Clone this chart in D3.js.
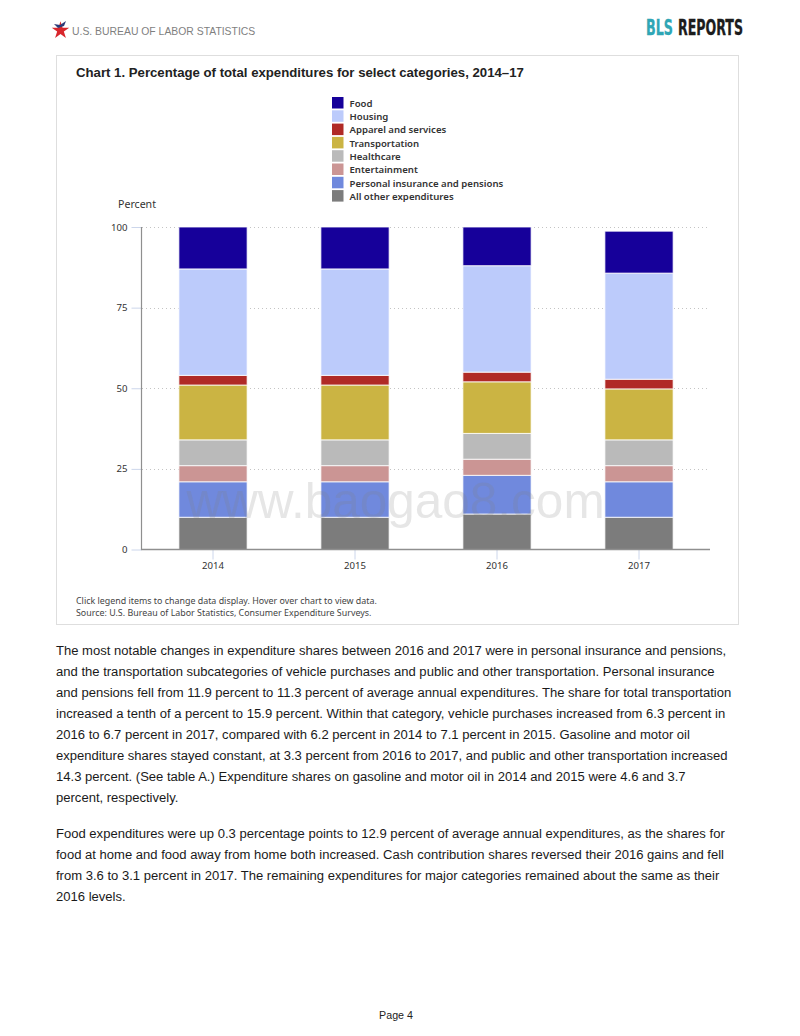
<!DOCTYPE html>
<html><head><meta charset="utf-8">
<script src="https://cdnjs.cloudflare.com/ajax/libs/d3/7.8.5/d3.min.js"></script>
<style>html,body{margin:0;padding:0;background:#fff}svg{display:block}</style>
</head><body><svg id="c" width="800" height="1036"></svg>
<script>
const years = ["2014","2015","2016","2017"];
const categories = ["All other expenditures","Personal insurance and pensions","Entertainment","Healthcare","Transportation","Apparel and services","Housing","Food"];
const other = [10,10,11,10];
const personal = [11,11,12,11];
const entertainment = [5,5,5,5];
const healthcare = [8,8,8,8];
const transportation = [17,17,16,15.8];
const apparel = [3,3,3,3];
const housing = [33,33,33,32.9];
const food = [13,13,12,13];
const seriesValues = [other,personal,entertainment,healthcare,transportation,apparel,housing,food];
const colors = ["#7c7c7c","#7089dd","#cb9594","#bababa","#cbb443","#b02a26","#bccbfb","#16009a"];
const legendOrder = ["Food","Housing","Apparel and services","Transportation","Healthcare","Entertainment","Personal insurance and pensions","All other expenditures"];
const yTicks = [0,25,50,75,100];
const paragraph1 = [
"The most notable changes in expenditure shares between 2016 and 2017 were in personal insurance and pensions,",
"and the transportation subcategories of vehicle purchases and public and other transportation. Personal insurance",
"and pensions fell from 11.9 percent to 11.3 percent of average annual expenditures. The share for total transportation",
"increased a tenth of a percent to 15.9 percent. Within that category, vehicle purchases increased from 6.3 percent in",
"2016 to 6.7 percent in 2017, compared with 6.2 percent in 2014 to 7.1 percent in 2015. Gasoline and motor oil",
"expenditure shares stayed constant, at 3.3 percent from 2016 to 2017, and public and other transportation increased",
"14.3 percent. (See table A.) Expenditure shares on gasoline and motor oil in 2014 and 2015 were 4.6 and 3.7",
"percent, respectively."];
const paragraph2 = [
"Food expenditures were up 0.3 percentage points to 12.9 percent of average annual expenditures, as the shares for",
"food at home and food away from home both increased. Cash contribution shares reversed their 2016 gains and fell",
"from 3.6 to 3.1 percent in 2017. The remaining expenditures for major categories remained about the same as their",
"2016 levels."];

const svg = d3.select("#c");
const sans = "'Liberation Sans',Arial,sans-serif";
const narrow = "'Liberation Sans Narrow','DejaVu Sans Condensed',sans-serif";
const chartFont = "'Noto Sans',Tahoma,sans-serif";

// header
const star = d3.symbol().type(d3.symbolStar).size(95)();
svg.append("path").attr("d",star).attr("transform","translate(60.5,30.5)").attr("fill","#d8262c");
svg.append("path").attr("d","M54,24 L60,25 L66,21 L64,26 L58,28 Z").attr("fill","#2b3a78");
svg.append("text").attr("x",72).attr("y",35).attr("font-family",sans).attr("font-size",10.4).attr("fill","#7f7f7f").text("U.S. BUREAU OF LABOR STATISTICS");
function logoWord(word,left,width,fill){
  const t = svg.append("text").attr("y",35.5).attr("font-family",narrow).attr("font-weight","bold").attr("font-size",20.5).attr("fill",fill).attr("stroke",fill).attr("stroke-width",0.3).text(word);
  const k = width/t.node().getComputedTextLength();
  t.attr("transform",`translate(${left},0) scale(${k},1)`);
}
logoWord("BLS",646,27,"#2fa6b5");
logoWord("REPORTS",678,65,"#1c1c1c");

// panel
svg.append("rect").attr("x",56.5).attr("y",55.5).attr("width",682).attr("height",569).attr("fill","#fff").attr("stroke","#dedede");
svg.append("text").attr("x",76).attr("y",76.5).attr("font-family",sans).attr("font-weight","bold").attr("font-size",13.2).attr("fill","#222").text("Chart 1. Percentage of total expenditures for select categories, 2014–17");

// scales
const x = d3.scaleBand().domain(years).range([142,710]).paddingInner(0.525).paddingOuter(0.2625);
const y = d3.scaleLinear().domain([0,100]).range([549.5,227]);

// grid
const g = svg.append("g");
g.selectAll("line.grid").data(yTicks.filter(d=>d>0)).join("line")
 .attr("x1",142).attr("x2",709).attr("y1",d=>Math.round(y(d))+.5).attr("y2",d=>Math.round(y(d))+.5)
 .attr("stroke","#c4c4c4").attr("stroke-dasharray","1,3");

// bars
const stackData = years.map((yr,i)=>{const o={year:yr};categories.forEach((c,j)=>o[c]=seriesValues[j][i]);return o;});
const stacked = d3.stack().keys(categories)(stackData);
stacked.forEach((s,j)=>{
  g.append("g").selectAll("rect").data(s).join("rect")
   .attr("x",d=>x(d.data.year)-0.4).attr("width",x.bandwidth()+0.8)
   .attr("y",d=>y(d[1])).attr("height",d=>y(d[0])-y(d[1]))
   .attr("fill",colors[j]).attr("stroke","#fff").attr("stroke-opacity",0.8).attr("stroke-width",1);
});

// axes
const yAxis = d3.axisLeft(y).tickValues(yTicks).tickSize(10).tickPadding(4);
const ya = svg.append("g").attr("transform","translate(141.5,0)").call(yAxis);
const xAxis = d3.axisBottom(x).tickSize(10).tickPadding(3);
const xa = svg.append("g").attr("transform","translate(0,549.5)").call(xAxis);
[ya,xa].forEach(a=>{
  a.selectAll("text").attr("font-family",chartFont).attr("font-size",9.6).attr("fill","#333");
  a.selectAll(".tick line").attr("stroke","#ccd6eb");
  a.select(".domain").remove();
});
svg.append("line").attr("x1",141.5).attr("x2",141.5).attr("y1",227).attr("y2",550).attr("stroke","#8f8f8f").attr("stroke-width",1.2);
svg.append("line").attr("x1",141).attr("x2",710).attr("y1",549.5).attr("y2",549.5).attr("stroke","#8f8f8f").attr("stroke-width",1.4);
svg.append("text").attr("x",118).attr("y",208).attr("font-family",chartFont).attr("font-size",10.6).attr("fill","#333").text("Percent");

// legend
const lg = svg.append("g").selectAll("g").data(legendOrder).join("g").attr("transform",(d,i)=>`translate(332,${97+i*13.3})`);
lg.append("rect").attr("width",11.5).attr("height",11.5).attr("fill",(d)=>colors[categories.indexOf(d)]);
lg.append("text").attr("x",17.5).attr("y",9.7).attr("font-family",chartFont).attr("font-size",9.6).attr("font-weight",600).attr("fill","#333").text(d=>d);

// notes
const notes = ["Click legend items to change data display. Hover over chart to view data.","Source: U.S. Bureau of Labor Statistics, Consumer Expenditure Surveys."];
svg.append("g").selectAll("text").data(notes).join("text").attr("x",76).attr("y",(d,i)=>604+i*12)
 .attr("font-family",chartFont).attr("font-size",8.9).attr("fill","#444").text(d=>d);

// watermark
svg.append("text").attr("x",395.5).attr("y",518).attr("text-anchor","middle").attr("font-family",sans).attr("font-size",49.5).attr("fill","#808080").attr("fill-opacity",0.2).text("www.baogao8.com");

// body
svg.append("g").selectAll("text").data(paragraph1).join("text").attr("x",56).attr("y",(d,i)=>655+i*21)
 .attr("font-family",sans).attr("font-size",13.05).attr("fill","#1a1a1a").text(d=>d);
svg.append("g").selectAll("text").data(paragraph2).join("text").attr("x",56).attr("y",(d,i)=>837.5+i*21)
 .attr("font-family",sans).attr("font-size",13.05).attr("fill","#1a1a1a").text(d=>d);
svg.append("text").attr("x",396).attr("y",1019).attr("text-anchor","middle").attr("font-family",sans).attr("font-size",10.7).attr("fill","#222").text("Page 4");
</script></body></html>
